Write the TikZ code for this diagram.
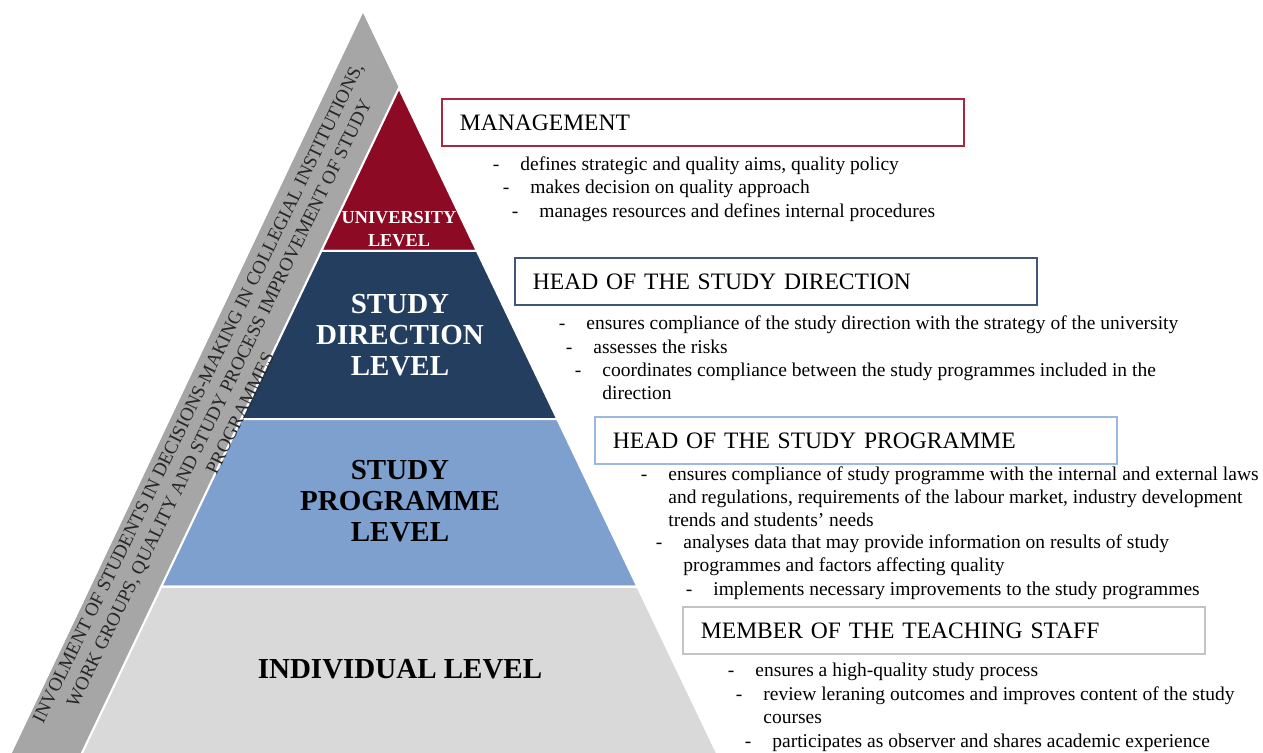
\documentclass[tikz,border=0pt]{standalone}
\usepackage{fontspec}
\setmainfont{Liberation Serif}
\usepackage{xcolor}
\usepackage{tikz}
\usetikzlibrary{calc,positioning}

\definecolor{unired}{HTML}{8C0A24}
\definecolor{dirblue}{HTML}{243E60}
\definecolor{progblue}{HTML}{7EA0CF}
\definecolor{indgray}{HTML}{D9D9D9}
\definecolor{slivergray}{HTML}{A6A6A6}
\definecolor{boxred}{HTML}{A8283F}
\definecolor{boxblue}{HTML}{3F5878}
\definecolor{boxlight}{HTML}{9DB8DE}
\definecolor{boxgray}{HTML}{C4C4C4}

\newcommand{\dashitem}[1]{\llap{-\hspace{12pt}}\begin{tabular}[t]{@{}l@{}}#1\end{tabular}}

\begin{document}
\begin{tikzpicture}[x=0.02cm,y=-0.02cm]
			\tikzstyle{level label}=[align=center,inner sep=0pt,font=\bfseries\fontsize{16.5}{17.6}\selectfont]
			\tikzstyle{role box}=[draw,line width=1.1pt,fill=white,anchor=north west,minimum width=10.44cm,minimum height=0.94cm,text width=9.72cm,inner xsep=0.36cm,align=left,font=\fontsize{13.4}{15}\selectfont]
			\tikzstyle{duty}=[anchor=base west,inner sep=0pt,font=\fontsize{11.1}{13.1}\selectfont]
			\useasboundingbox (0,0) rectangle (1263,753);
			\clip (0,0) rectangle (1263,753);
			\coordinate (top) at (363,13);
			\coordinate (outerleft) at (12,753);
			\coordinate (apex) at (399,88);
			\coordinate (left) at (82,753);
			\coordinate (right) at (717,753);
			% students' strip behind the pyramid
			\fill[slivergray] (top) -- (outerleft) -- (right) -- cycle;
			% the four levels
			\foreach \a/\b/\c in {0/0.245/unired, 0.245/0.498/dirblue, 0.498/0.75/progblue, 0.75/1.02/indgray}
				\filldraw[fill=\c,draw=white,line width=1.2pt] ($(apex)!\a!(left)$) -- ($(apex)!\b!(left)$) -- ($(apex)!\b!(right)$) -- ($(apex)!\a!(right)$) -- cycle;
			\node[level label,text=white,font=\bfseries\fontsize{10.4}{13.1}\selectfont] (uni) at (399,229) {UNIVERSITY\\LEVEL};
			\node[level label,text=white] (dir) at (400,335) {STUDY\\DIRECTION\\LEVEL};
			\node[level label] (prog) at (400,501) {STUDY\\PROGRAMME\\LEVEL};
			\node[level label] (ind) at (400,669) {INDIVIDUAL LEVEL};
			\node[rotate=64,align=center,inner sep=0pt,text=black!85,font=\fontsize{10.8}{13.3}\selectfont] (involve) at (219,403) {INVOLMENT OF STUDENTS IN DECISIONS-MAKING IN COLLEGIAL INSTITUTIONS,\\WORK GROUPS, QUALITY AND STUDY PROCESS IMPROVEMENT OF STUDY\\PROGRAMMES};
			% roles
			\node[role box,draw=boxred] (mgmt) at (441,98) {MANAGEMENT};
			\node[role box,draw=boxblue] (headdir) at (514,257) {HEAD OF THE STUDY DIRECTION};
			\node[role box,draw=boxlight] (headprog) at (594,416) {HEAD OF THE STUDY PROGRAMME};
			\node[role box,draw=boxgray] (staff) at (682,606) {MEMBER OF THE TEACHING STAFF};
			% duties
			\node[duty] (m1) at (520,171) {\dashitem{defines strategic and quality aims, quality policy}};
			\node[duty] (m2) at (530,194) {\dashitem{makes decision on quality approach}};
			\node[duty] (m3) at (539,217) {\dashitem{manages resources and defines internal procedures}};
			\node[duty] (d1) at (586,329) {\dashitem{ensures compliance of the study direction with the strategy of the university}};
			\node[duty] (d2) at (593,353) {\dashitem{assesses the risks}};
			\node[duty] (d3) at (602,376) {\dashitem{coordinates compliance between the study programmes included in the\\direction}};
			\node[duty] (p1) at (668,480) {\dashitem{ensures compliance of study programme with the internal and external laws\\and regulations, requirements of the labour market, industry development\\trends and students’ needs}};
			\node[duty] (p2) at (683,548) {\dashitem{analyses data that may provide information on results of study\\programmes and factors affecting quality}};
			\node[duty] (p3) at (713,595) {\dashitem{implements necessary improvements to the study programmes}};
			\node[duty] (s1) at (755,676) {\dashitem{ensures a high-quality study process}};
			\node[duty] (s2) at (763,700) {\dashitem{review leraning outcomes and improves content of the study\\courses}};
			\node[duty] (s3) at (772,747) {\dashitem{participates as observer and shares academic experience}};
		\end{tikzpicture}
\end{document}
